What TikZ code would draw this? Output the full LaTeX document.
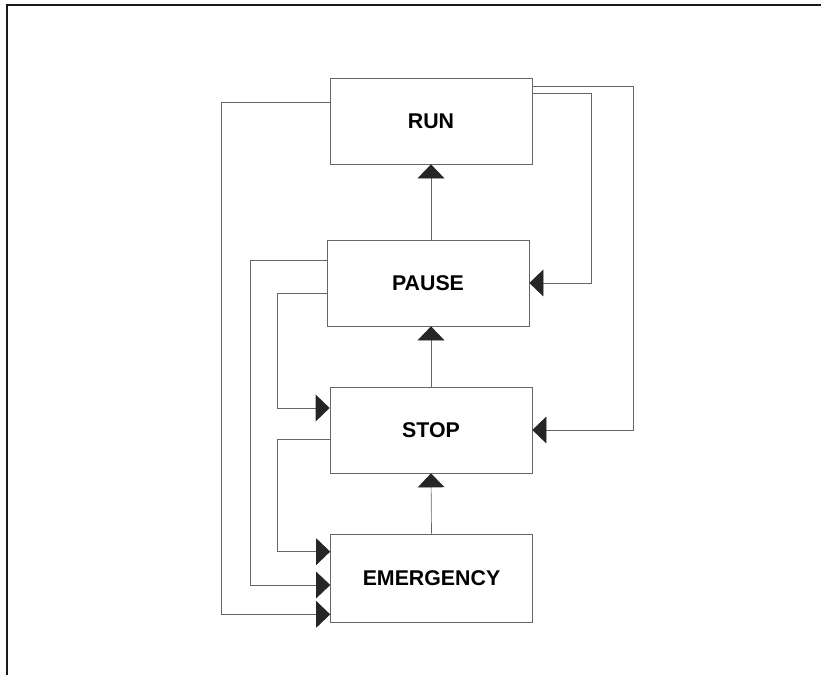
\documentclass[tikz,border=0pt]{standalone}
\usepackage{fontspec}
\setmainfont{Liberation Sans}
\usetikzlibrary{positioning,arrows.meta,calc}

\begin{document}
\begin{tikzpicture}[
  x=0.75pt, y=-0.75pt,
  state/.style={draw=gray!80!black, line width=0.5pt, minimum width=151.5pt,
                minimum height=64.5pt, inner sep=0pt,
                font=\fontsize{16}{18}\selectfont\bfseries},
  arr/.style={-{Triangle[length=10.5pt,width=20pt,color=black!85]},
              draw=gray!80!black, line width=0.5pt},
  frame/.style={line width=1.6pt, black!90},
]
  \useasboundingbox (0,0) rectangle (821,675);
  % scanned page frame
  \coordinate (fcorner) at (7,5);
  \draw[frame] (821,5) -- (fcorner) -- (7,675);

  \node[state] (run) at (431,121) {RUN};
  \node[state] (pause) at (428,283) {PAUSE};
  \node[state] (stop) at (431,430) {STOP};
  \node[state, minimum height=66pt] (emerg) at (431.5,578) {EMERGENCY};

  \draw[arr] (emerg.north) -- (stop.south);
  \draw[arr] (stop.north) -- (stop.north |- pause.south);
  \draw[arr] (stop.north |- pause.north) -- (stop.north |- run.south);

  % right side loops
  \draw[arr] ($(run.north east)+(0,9)$) -- ++(101,0) |- (stop.east);
  \draw[arr] ($(run.north east)+(0,16)$) -- ++(59,0) |- (pause.east);

  % left side loops
  \draw[arr] ($(run.north west)+(0,25)$) -- ++(-108,0) |- ($(emerg.south west)+(0,-8)$);
  \draw[arr] ($(pause.north west)+(0,21)$) -- ++(-76,0) |- ($(emerg.west)+(0,7)$);
  \draw[arr] ($(pause.north west)+(0,54)$) -- ++(-49,0) |- ($(stop.west)+(0,-22)$);
  \draw[arr] ($(stop.north west)+(0,53)$) -- ++(-52,0) |- ($(emerg.north west)+(0,18)$);
\end{tikzpicture}
\end{document}
